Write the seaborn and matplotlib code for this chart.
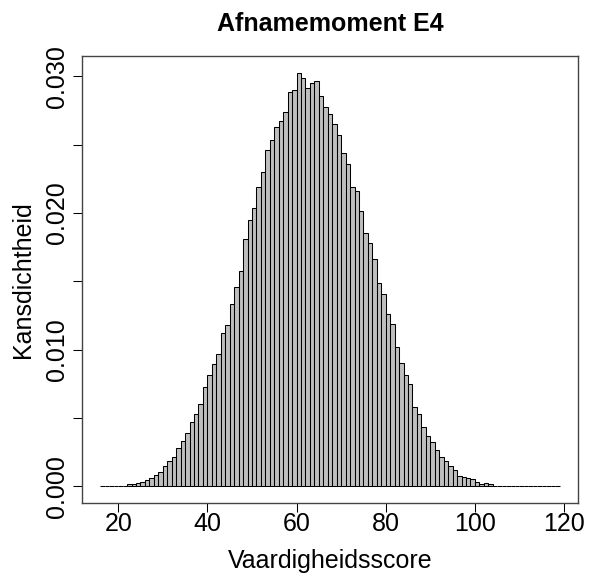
import numpy as np
import pandas as pd
import matplotlib
matplotlib.use("Agg")
import matplotlib.pyplot as plt
import seaborn as sns

# histogram bins (width 1), left edges 16 .. 118
bin_left = list(range(16, 119))

# density per bin
density = [
    0, 0, 0, 0.00007, 0, 0.00007, 0.00017, 0.00017, 0.00022, 0.0003,          # 16-25
    0.00046, 0.00061, 0.00083, 0.00105, 0.00152, 0.00184, 0.00218, 0.00278,   # 26-33
    0.00331, 0.00389, 0.00475, 0.00527, 0.0060, 0.00728, 0.00815, 0.00898,    # 34-41
    0.00969, 0.01123, 0.01181, 0.01335, 0.0146, 0.01579, 0.01811, 0.0195,     # 42-49
    0.02038, 0.02187, 0.02296, 0.02458, 0.02531, 0.02628, 0.0267, 0.02741,    # 50-57
    0.02884, 0.02902, 0.03026, 0.0299, 0.02916, 0.0295, 0.02965, 0.02858,     # 58-65
    0.02775, 0.02721, 0.02653, 0.02567, 0.02441, 0.02357, 0.02187, 0.0216,    # 66-73
    0.02013, 0.01855, 0.01782, 0.01665, 0.01484, 0.01406, 0.01262, 0.01189,   # 74-81
    0.01018, 0.00903, 0.00815, 0.00747, 0.00581, 0.00527, 0.00435, 0.00369,   # 82-89
    0.00327, 0.00266, 0.00217, 0.00183, 0.00149, 0.0012, 0.00078, 0.00071,    # 90-97
    0.00064, 0.00056, 0.00034, 0.0002, 0.00027, 0.00015, 0.00007, 0.00005,    # 98-105
    0.00005, 0, 0, 0, 0, 0, 0, 0, 0, 0, 0, 0, 0,                              # 106-118
]

x_ticks = [20, 40, 60, 80, 100, 120]
y_ticks = [0.000, 0.005, 0.010, 0.015, 0.020, 0.025, 0.030]
y_labels = ["0.000", "", "0.010", "", "0.020", "", "0.030"]

df = pd.DataFrame({"score": np.array(bin_left) + 0.5, "density": density})
edges = bin_left + [bin_left[-1] + 1]

sns.set_style("ticks")
plt.rcParams["font.family"] = ["Liberation Sans", "DejaVu Sans"]
plt.rcParams["text.color"] = "black"
plt.rcParams["axes.labelcolor"] = "black"
plt.rcParams["xtick.color"] = "black"
plt.rcParams["ytick.color"] = "black"

fig = plt.figure(figsize=(5.95, 5.77), dpi=100)
ax = fig.add_axes([0.1378, 0.1282, 0.8336, 0.7747])

sns.histplot(data=df, x="score", weights="density", bins=edges, stat="count",
             color="#BEBEBE", edgecolor="black", linewidth=0.75, alpha=1, ax=ax)

# R-style 4% padding
lo, hi = edges[0], edges[-1]
ax.set_xlim(lo - 0.04 * (hi - lo), hi + 0.04 * (hi - lo))
ymax = max(density)
ax.set_ylim(-0.04 * ymax, 1.04 * ymax)

ax.set_xticks(x_ticks)
ax.set_xticklabels([str(t) for t in x_ticks])
ax.set_yticks(y_ticks)
ax.set_yticklabels(y_labels, rotation=90, va="center")
ax.tick_params(axis="both", labelsize=18, length=6.5, width=0.75, color="black")
ax.tick_params(axis="x", pad=0)
ax.tick_params(axis="y", pad=3)

for s in ax.spines.values():
    s.set_visible(True)
    s.set_color("#444444")
    s.set_linewidth(1.0)

ax.set_xlabel("Vaardigheidsscore", fontsize=18, labelpad=9)
ax.set_ylabel("Kansdichtheid", fontsize=18, labelpad=7)
ax.set_title("Afnamemoment E4", fontsize=18, fontweight="bold", pad=18)

fig.savefig("out.png", dpi=100)
